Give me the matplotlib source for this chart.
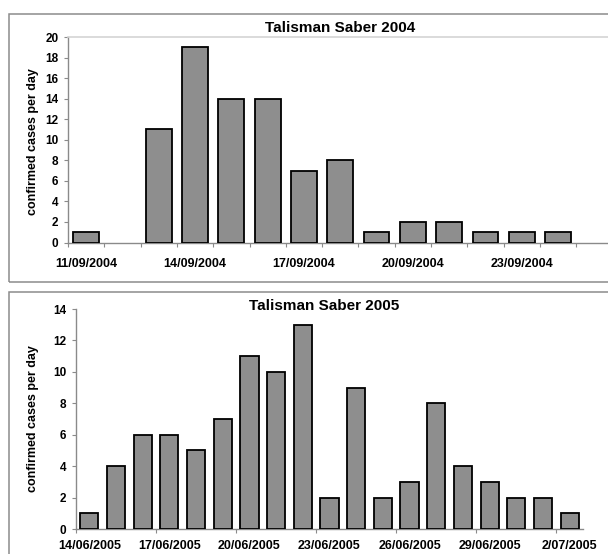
import numpy as np
import matplotlib
matplotlib.use('Agg')
import matplotlib.pyplot as plt
from matplotlib.patches import Rectangle

plt.rcParams['font.family'] = ['Liberation Sans', 'DejaVu Sans']

W, H = 608, 554

# ---- data ----
days_2004 = ['11/09/2004', '12/09/2004', '13/09/2004', '14/09/2004', '15/09/2004',
             '16/09/2004', '17/09/2004', '18/09/2004', '19/09/2004', '20/09/2004',
             '21/09/2004', '22/09/2004', '23/09/2004', '24/09/2004']
cases_2004 = [1, 0, 11, 19, 14, 14, 7, 8, 1, 2, 2, 1, 1, 1]

days_2005 = ['14/06/2005', '15/06/2005', '16/06/2005', '17/06/2005', '18/06/2005',
             '19/06/2005', '20/06/2005', '21/06/2005', '22/06/2005', '23/06/2005',
             '24/06/2005', '25/06/2005', '26/06/2005', '27/06/2005', '28/06/2005',
             '29/06/2005', '30/06/2005', '1/07/2005', '2/07/2005']
cases_2005 = [1, 4, 6, 6, 5, 7, 11, 10, 13, 2, 9, 2, 3, 8, 4, 3, 2, 2, 1]

bar_c = '#8e8e8e'
axis_c = '#8a8a8a'
box_c = '#8c8c8c'


def px_rect(l, t, r, b):
    # pixel box (from top-left) -> figure fraction [left, bottom, width, height]
    return [l / W, 1 - b / H, (r - l) / W, (b - t) / H]


def draw_panel(ax, days, cases, ymax, ystep, width, tick_every, top_line, xpad):
    x = np.arange(len(days))
    vals = np.array(cases)
    lws = np.where(vals > 0, 1.3, 0)
    ax.bar(x, vals, width=width, color=bar_c, edgecolor='black', linewidth=lws, zorder=3)
    ax.set_ylim(0, ymax)
    ax.set_yticks(np.arange(0, ymax + 1, ystep))
    ax.set_xticks(x[::3])
    ax.set_xticklabels([days[i] for i in x[::3]])
    ax.set_xticks(np.arange(-0.5, len(days) + 1, tick_every), minor=True)
    ax.tick_params(axis='x', which='major', length=0, pad=xpad, labelsize=9)
    ax.tick_params(axis='x', which='minor', length=3, color=axis_c, width=0.8)
    ax.tick_params(axis='y', length=3, color=axis_c, width=0.8, pad=4, labelsize=8.5)
    for lab in ax.get_xticklabels() + ax.get_yticklabels():
        lab.set_fontweight('bold')
    for s in ['left', 'bottom']:
        ax.spines[s].set_color(axis_c)
        ax.spines[s].set_linewidth(1.0)
    ax.spines['right'].set_visible(False)
    if top_line:
        ax.spines['top'].set_color('#d4d4d4')
        ax.spines['top'].set_linewidth(1.2)
    else:
        ax.spines['top'].set_visible(False)
    ax.set_facecolor('none')


fig = plt.figure(figsize=(W / 100, H / 100), dpi=100)

# outer chart frames (cropped on the right like the screenshot)
fig.add_artist(Rectangle((9 / W, 1 - 282 / H), 700 / W, (282 - 14) / H, transform=fig.transFigure,
                         fill=False, edgecolor=box_c, lw=1.1))
fig.add_artist(Rectangle((9 / W, -0.2), 700 / W, 0.2 + 1 - 292 / H, transform=fig.transFigure,
                         fill=False, edgecolor=box_c, lw=1.1))

# top panel: 2004
ax1 = fig.add_axes(px_rect(68, 37, 68 + 15 * 36.3, 242.5))
draw_panel(ax1, days_2004, cases_2004, 20, 2, 0.71, 1, True, 11)
ax1.set_xlim(-0.5, 14.5)
fig.text(340 / W, 1 - 28 / H, 'Talisman Saber 2004', ha='center', va='center',
         fontsize=11, fontweight='bold')
fig.text(33 / W, 1 - 142 / H, 'confirmed cases per day', rotation=90, ha='center',
         va='center', fontsize=9, fontweight='bold')

# bottom panel: 2005
ax2 = fig.add_axes(px_rect(76, 309, 583, 529))
draw_panel(ax2, days_2005, cases_2005, 14, 2, 0.68, 3, False, 8)
ax2.set_xlim(-0.5, len(days_2005) - 0.5)
fig.text(324 / W, 1 - 306 / H, 'Talisman Saber 2005', ha='center', va='center',
         fontsize=11, fontweight='bold')
fig.text(33 / W, 1 - 419 / H, 'confirmed cases per day', rotation=90, ha='center',
         va='center', fontsize=9, fontweight='bold')

fig.savefig('out.png', dpi=100)
plt.close(fig)
